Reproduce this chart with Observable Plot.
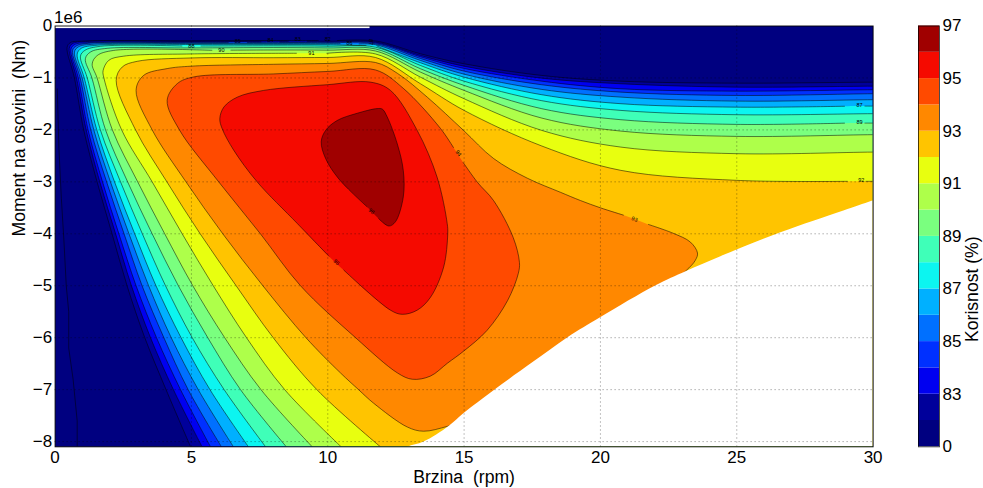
<!DOCTYPE html>
<html>
<head>
<meta charset="utf-8">
<script src="https://cdn.jsdelivr.net/npm/d3@7"></script>
<script src="https://cdn.jsdelivr.net/npm/@observablehq/plot@0.6"></script>
<style>
html,body{margin:0;padding:0;background:#fff}
#wrap{display:flex;width:983px;height:488px}
svg{display:block;white-space:pre}
</style>
</head>
<body>
<div id="wrap"></div>
<script>
// Colour bar: band boundaries, tick labels and band colours
const barLevels = [0,82,83,84,85,86,87,88,89,90,91,92,93,94,95,96,97];
const barLabels = ["0",83,85,87,89,91,93,95,97].map(String);
const barColors = ["#000080","#00009b","#0000f0","#0030ff","#0070ff","#00b0ff","#0cf5f0","#3fffb8","#7aff7f","#aeff4a","#e8ff0f","#ffc400","#ff8800","#ff4a00","#f50a00","#a00000"];
const xTicks = [0,5,10,15,20,25,30];
const yTicks = [0,-1,-2,-3,-4,-5,-6,-7,-8];

// Contours: [speed rpm, torque 1e6 Nm]; null marks the break around a contour label
const level0 = [[.08,-1.21],[.14,-2.36],[.23,-3.32],[.32,-4.1],[.41,-5],[.5,-5.5],[.5,-6.2],[.66,-6.8],[.81,-7.6],[.81,-8.1]];
const level82 = [[4.97,-8.1],[4.07,-7],[3.29,-6],[2.64,-5],[2.09,-4],[1.54,-3],[1.05,-2],[.71,-1],[.44,-.41],[.56,-.32],[1.05,-.29],[5,-.283],[8,-.279],[9.65,-.279],null,[10.35,-.28],[11.75,-.288],[13.4,-.535],[15,-.727],[17.85,-.952],[20.75,-1.062],[25,-1.1],[30,-1.081]];
const level83 = [[5.39,-8.1],[4.34,-7],[3.5,-6],[2.8,-5],[2.22,-4],[1.64,-3],[1.14,-2],[.785,-1],[.52,-.43],[.64,-.34],[1.12,-.3],[5,-.296],[8.55,-.292],null,[9.25,-.292],[10,-.292],[11.75,-.308],[13.4,-.567],[15,-.773],[17.85,-1.004],[20.75,-1.112],[25,-1.177],[30,-1.158]];
const level84 = [[5.7,-8.1],[4.6,-7],[3.72,-6],[2.97,-5],[2.34,-4],[1.74,-3],[1.21,-2],[.85,-1],[.58,-.45],[.71,-.36],[1.18,-.32],[5,-.31],[7.55,-.306],null,[8.25,-.306],[10,-.306],[11.75,-.323],[13.4,-.592],[15,-.817],[17.85,-1.062],[20.75,-1.208],[25,-1.254],[30,-1.227]];
const level85 = [[6.1,-8.1],[4.88,-7],[3.99,-6],[3.19,-5],[2.53,-4],[1.89,-3],[1.31,-2],[.92,-1],[.64,-.47],[.79,-.38],[1.3,-.33],[5,-.323],[6.35,-.32],null,[7.05,-.32],[10,-.321],[11.75,-.342],[13.4,-.625],[15,-.869],[17.85,-1.131],[20.75,-1.273],[25,-1.337],[30,-1.304]];
const level86 = [[6.54,-8.1],[5.25,-7],[4.26,-6],[3.43,-5],[2.71,-4],[2.03,-3],[1.42,-2],[.99,-1],[.71,-.5],[.86,-.4],[1.42,-.35],[5,-.338],[8,-.337],[10.45,-.34],null,[11.15,-.345],[11.75,-.36],[13.4,-.663],[15,-.927],[17.85,-1.221],[20.75,-1.369],[25,-1.446],[30,-1.419]];
const level87 = [[7.09,-8.1],[5.68,-7],[4.62,-6],[3.7,-5],[2.92,-4],[2.18,-3],[1.53,-2],[1.07,-1],[.81,-.54],[.96,-.43],[1.54,-.37],[5,-.356],[8,-.356],[10,-.36],[11.4,-.375],null,[11.8,-.385],[13.4,-.708],[15,-.985],[17.85,-1.323],[20.75,-1.496],[25,-1.562],[28.95,-1.545],null,[29.7,-1.542],[30,-1.542]];
const level88 = [[7.72,-8.1],[6.2,-7],[5.03,-6],[4.05,-5],[3.2,-4],[2.4,-3],[1.66,-2],[1.18,-1],[.93,-.58],[1.09,-.47],[1.67,-.39],[4.65,-.385],null,[5.35,-.385],[8,-.381],[10,-.388],[11.75,-.408],[13.4,-.76],[15,-1.062],[17.85,-1.438],[20.75,-1.625],[25,-1.708],[30,-1.688]];
const level89 = [[8.48,-8.1],[6.8,-7],[5.6,-6],[4.52,-5],[3.56,-4],[2.66,-3],[1.85,-2],[1.35,-1],[1.11,-.63],[1.3,-.5],[1.91,-.43],[5,-.423],[8,-.415],[10,-.423],[11.75,-.442],[13.4,-.823],[15,-1.144],[17.85,-1.592],[20.75,-1.804],[25,-1.894],[28.95,-1.87],null,[29.7,-1.869],[30,-1.869]];
const level90 = [[9.43,-8.1],[7.55,-7],[6.22,-6],[5.05,-5],[4.02,-4],[3.03,-3],[2.1,-2],[1.54,-1],[1.36,-.73],[1.54,-.57],[2.15,-.47],[5.75,-.468],null,[6.45,-.465],[8,-.462],[10,-.465],[11.75,-.481],[13.4,-.888],[15,-1.24],[17.85,-1.773],[20.75,-2.023],[25,-2.125],[30,-2.092]];
const level91 = [[10.49,-8.1],[8.42,-7],[7.02,-6],[5.8,-5],[4.66,-4],[3.56,-3],[2.44,-2],[1.79,-1],[1.76,-.86],[1.97,-.66],[2.52,-.58],[5,-.538],[8.85,-.525],null,[9.97,-.525],[11.75,-.538],[13.4,-.985],[15,-1.4],[17.85,-2.01],[20.75,-2.331],[25,-2.458],[30,-2.427]];
const level92 = [[11.93,-8.1],[9.6,-7],[8,-6],[6.64,-5],[5.32,-4],[4.1,-3],[2.95,-2],[2.24,-1.05],[2.46,-.79],[3.01,-.68],[5,-.615],[8,-.61],[10,-.606],[11.75,-.606],[13.4,-1.112],[15,-1.625],[17.85,-2.31],[20.75,-2.779],[25,-2.971],[29.05,-2.99],null,[29.74,-2.99],[30,-2.99]];
const level93 = [[14.43,-7.7],[13.51,-7.8],[12.92,-7.72],[11.68,-7.26],[11.13,-7],[10.47,-6.68],[9.2,-6],[7.62,-5],[6.15,-4],[4.8,-3],[3.56,-2],[2.97,-1.24],[3.25,-.95],[4.11,-.82],[5,-.773],[8,-.737],[10,-.721],[11.75,-.702],[12.56,-.913],[13.66,-1.375],[14.98,-2.01],[16.08,-2.55],[17.32,-2.93],[18.53,-3.2],[19.27,-3.36],[20,-3.5],[20.84,-3.64],null,[21.76,-3.82],[22.67,-3.99],[23.3,-4.16],[23.56,-4.37],[23.48,-4.51],[23.12,-4.72],[20,-6.05],[16.33,-7.39]];
const level94 = [[4.11,-1.43],[4.48,-1.11],[5.09,-.98],[8,-.923],[10,-.875],[11.75,-.846],[12.77,-1.2],[14.13,-1.97],[14.61,-2.34],null,[14.97,-2.63],[15.49,-3.01],[16.08,-3.36],[16.8,-4.07],[17.03,-4.55],[16.99,-4.76],[16.6,-5.28],[15.84,-5.86],[14.98,-6.26],[14.39,-6.49],[13.76,-6.74],[13.1,-6.8],[12.56,-6.68],[11.02,-6],[9,-5],[7.53,-4],[6,-3],[4.56,-2]];
const level95 = [[6.04,-1.785],[6.19,-1.56],[6.68,-1.37],[7.65,-1.24],[9.98,-1.13],[11.56,-1.08],[12.3,-1.24],[13.28,-2.01],[14.01,-2.91],[14.38,-3.8],[14.4,-4],[14.25,-4.64],[13.77,-5.22],[13.28,-5.47],[12.73,-5.55],[12.3,-5.47],[10.59,-4.7],null,[10.04,-4.43],[8.88,-3.8],[7.41,-3],[6.55,-2.39],[6.13,-1.98]];
const level96 = [[11.81,-1.59],[11.08,-1.68],[10.34,-1.82],[9.92,-2.01],[9.76,-2.23],[9.92,-2.55],[10.4,-2.94],[11.44,-3.48],null,[11.87,-3.71],[12.24,-3.85],[12.48,-3.77],[12.77,-3.29],[12.77,-2.78],[12.55,-2.27],[12.18,-1.75],[12,-1.6]];

// Edge of the feasible region (everything below it is blank)
const blankEdge = [[12.4,-8.25],[12.91,-8.1],[13.51,-8],[14.43,-7.7],[14.98,-7.45],[16.08,-7.01],[17.51,-6.47],[18.79,-5.99],[20,-5.6],[22.02,-4.99],[23.12,-4.72],[24.4,-4.43],[26.6,-3.97],[28.91,-3.55],[29.97,-3.36]];
const blankTop = [{x1:0,x2:11.55,y1:-.05,y2:0}];

// Inline contour labels
const labelText = ["88","90","85","84","83","82","86","87","91","87","89","92","93","94","95","96"];
const labelX = [5,6.1,6.7,7.9,8.9,10,10.8,11.59,9.4,29.5,29.5,29.57,21.25,14.79,10.32,11.6];
const labelY = [-.39,-.47,-.292,-.279,-.26,-.246,-.323,-.31,-.515,-1.53,-1.855,-2.97,-3.72,-2.45,-4.55,-3.57];
const labelAngle = [0,0,0,0,0,0,0,90,0,0,0,0,20,55,45,40];

const openLevels = [level82,level83,level84,level85,level86,level87,level88,level89,level90,level91,level92];
const closedLevels = [level93,level94,level95,level96];
const navy = barColors[0];
const fontFamily = "'Liberation Sans', Arial, sans-serif";
const px = d => d ? d[0] : NaN, py = d => d ? d[1] : NaN;

const marks = [Plot.frame({fill: navy, stroke: "none"})];
const lineStyle = {stroke: "#000", strokeWidth: .6, strokeOpacity: .85};

// open contours run from the bottom edge to the right edge: close them outside the frame
openLevels.forEach((lvl, i) => {
  const pts = lvl.filter(Boolean);
  const first = pts[0], last = pts[pts.length - 1];
  const poly = pts.concat([[31, last[1]], [31, -9.5], [first[0] + 1.5, -9.5]]);
  marks.push(Plot.line(poly, {x: px, y: py, curve: "catmull-rom", clip: true, fill: barColors[i + 1], stroke: "none"}));
});
closedLevels.forEach((lvl, i) => {
  marks.push(Plot.line(lvl.filter(Boolean), {x: px, y: py, curve: "catmull-rom-closed", clip: true, fill: barColors[i + 12], stroke: "none"}));
});
marks.push(Plot.line(level0, {x: px, y: py, clip: true, fill: "none", ...lineStyle}));
openLevels.forEach(lvl => {
  const last = lvl[lvl.length - 1];
  marks.push(Plot.line(lvl.concat([[31, last[1]]]), {x: px, y: py, curve: "catmull-rom", clip: true, fill: "none", ...lineStyle}));
});
closedLevels.forEach(lvl => {
  const i = lvl.indexOf(null);
  const ring = lvl.slice(i + 1).concat(lvl.slice(0, i));
  marks.push(Plot.line(ring, {x: px, y: py, curve: "catmull-rom", clip: true, fill: "none", ...lineStyle}));
});
// blank region
const last = blankEdge[blankEdge.length - 1];
marks.push(Plot.line(blankEdge.concat([[31, last[1] + .19], [31, -9.5], [12.4, -9.5]]), {x: px, y: py, curve: "catmull-rom", clip: true, fill: "#fff", stroke: "none"}));
marks.push(Plot.rectY(blankTop, {x1: "x1", x2: "x2", y1: "y1", y2: "y2", fill: "#fff"}));
// grid
const gridStyle = {stroke: "#000", strokeOpacity: .6, strokeWidth: .8, strokeDasharray: "1,3"};
marks.push(Plot.gridX(xTicks.slice(1, -1), gridStyle));
marks.push(Plot.gridY(yTicks.slice(1), gridStyle));
// labels
marks.push(Plot.text(labelText, {
  x: (d, i) => labelX[i], y: (d, i) => labelY[i], rotate: (d, i) => labelAngle[i],
  text: d => d, fontSize: 5.5, fill: "#000"
}));
marks.push(Plot.axisX({ticks: xTicks, tickSize: 0, tickPadding: 4, label: null, fontSize: 17, tickFormat: d => d}));
marks.push(Plot.axisY({ticks: yTicks, tickSize: 0, tickPadding: 3, label: null, fontSize: 17}));
marks.push(Plot.frame({stroke: "#000", strokeWidth: 1, strokeOpacity: .9}));
marks.push(Plot.text(["1e6"], {frameAnchor: "top-left", dx: -1, dy: -3, lineAnchor: "bottom", textAnchor: "start", fontSize: 17}));
marks.push(Plot.text(["Brzina  (rpm)"], {frameAnchor: "bottom", dy: 36, lineAnchor: "bottom", fontSize: 17.6}));
marks.push(Plot.text(["Moment na osovini  (Nm)"], {frameAnchor: "left", dx: -36, rotate: -90, fontSize: 17.6}));

const main = Plot.plot({
  width: 895, height: 488,
  marginLeft: 54.6, marginRight: 22.4, marginTop: 25.5, marginBottom: 41.7,
  style: {fontFamily, background: "#fff", overflow: "visible"},
  x: {domain: [0, 30]},
  y: {domain: [-8.1, 0]},
  marks
});

// Colour bar: one equal band per level
const bandIndex = barColors.map((c, i) => i);
const tickIndex = [0, 2, 4, 6, 8, 10, 12, 14, 16];
const bar = Plot.plot({
  width: 88, height: 488,
  marginLeft: 23, marginRight: 44, marginTop: 25.5, marginBottom: 41.7,
  style: {fontFamily, background: "#fff", overflow: "visible"},
  x: {domain: [0, 1], axis: null},
  y: {domain: [0, 16]},
  marks: [
    Plot.rect(bandIndex, {x1: 0, x2: 1, y1: d => d, y2: d => d + 1, fill: d => barColors[d]}),
    Plot.axisY({anchor: "right", ticks: tickIndex, tickSize: 0, tickPadding: 3, label: null, fontSize: 17,
      tickFormat: d => barLabels[tickIndex.indexOf(d)]}),
    Plot.frame({stroke: "#000", strokeWidth: 1, strokeOpacity: .7}),
    Plot.text(["Korisnost (%)"], {frameAnchor: "right", dx: 33, rotate: -90, fontSize: 17.6})
  ]
});
const wrap = document.getElementById("wrap");
wrap.appendChild(main);
wrap.appendChild(bar);
</script>
</body>
</html>
